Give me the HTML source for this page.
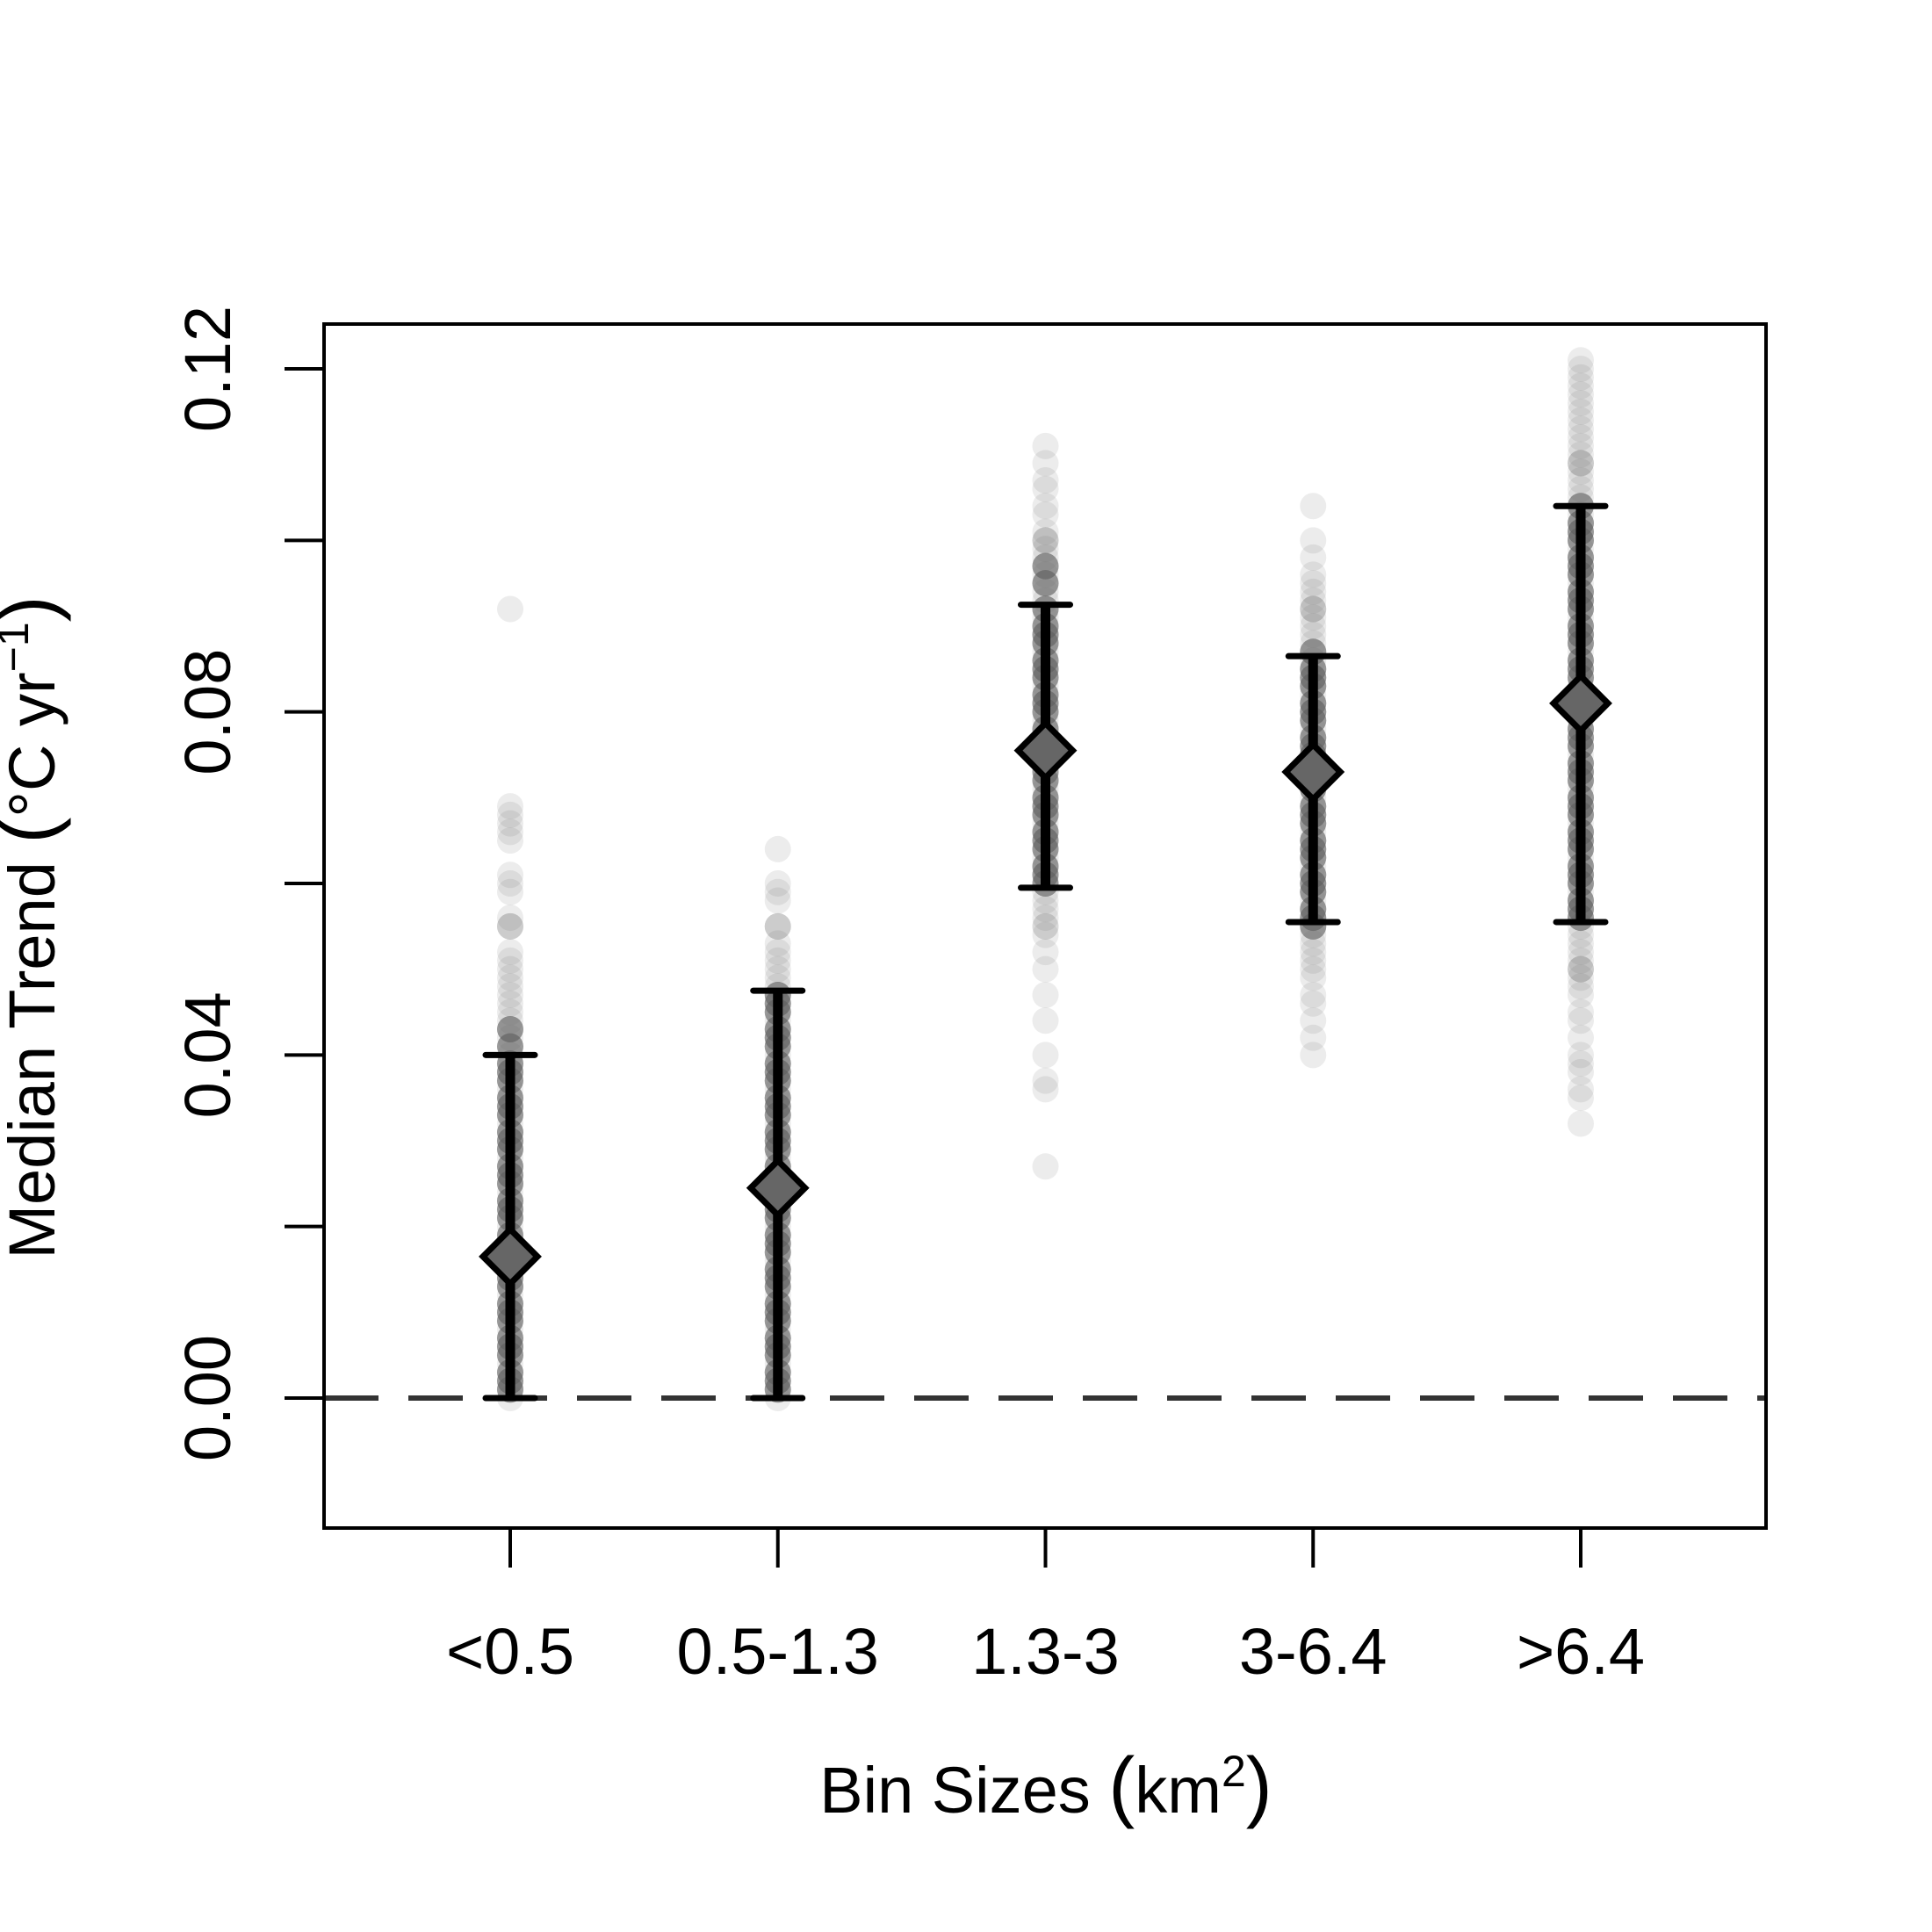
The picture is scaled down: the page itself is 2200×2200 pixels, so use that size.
<!DOCTYPE html>
<html><head><meta charset="utf-8"><style>
html,body{margin:0;padding:0;background:#fff}
svg{display:block}
text{font-family:"Liberation Sans",Arial,sans-serif;fill:#000}
</style></head><body>
<svg id="chart" width="2200" height="2200" viewBox="0 0 2200 2200" xmlns="http://www.w3.org/2000/svg">
<rect x="0" y="0" width="2200" height="2200" fill="#fff"/>
<g id="pts"></g>
<g id="marks"></g>
<g id="axes"></g>
<text x="1191" y="2064" font-size="74" text-anchor="middle">Bin Sizes <tspan font-size="90">(</tspan>km<tspan font-size="50" dy="-30">2</tspan><tspan font-size="90" dy="30">)</tspan></text>
<text transform="translate(62,1056) rotate(-90)" font-size="74" text-anchor="middle">Median Trend <tspan font-size="90">(</tspan>°C yr<tspan font-size="50" dy="-30">−1</tspan><tspan font-size="90" dy="30">)</tspan></text>
</svg>
<script>
const categories = ["<0.5","0.5-1.3","1.3-3","3-6.4",">6.4"];
const medians = [0.0165, 0.0245, 0.0755, 0.0730, 0.0810];
const lowers = [0.0, 0.0, 0.0595, 0.0555, 0.0555];
const uppers = [0.040, 0.0475, 0.0925, 0.0865, 0.1040];
const yTicks = [0, 0.02, 0.04, 0.06, 0.08, 0.10, 0.12];
const yTickLabels = ["0.00","","0.04","","0.08","","0.12"];
const pts0 = [0,0.001,0.002,0.003,0.004,0.005,0.006,0.007,0.008,0.009,0.010,0.011,0.012,0.013,0.014,0.015,0.016,0.017,0.018,0.019,0.020,0.021,0.022,0.023,0.024,0.025,0.026,0.027,0.028,0.029,0.030,0.031,0.032,0.033,0.034,0.035,0.036,0.037,0.038,0.039,0.040,0.041,0.042,0.043,0.044,0.045,0.046,0.047,0.048,0.049,0.050,0.051,0.052,0.055,0.055,0.055,0.056,0.059,0.060,0.061,0.065,0.066,0.067,0.068,0.069,0.092];
const pts1 = [0,0.001,0.002,0.003,0.004,0.005,0.006,0.007,0.008,0.009,0.010,0.011,0.012,0.013,0.014,0.015,0.016,0.017,0.018,0.019,0.020,0.021,0.022,0.023,0.024,0.025,0.026,0.027,0.028,0.029,0.030,0.031,0.032,0.033,0.034,0.035,0.036,0.037,0.038,0.039,0.040,0.041,0.042,0.043,0.044,0.045,0.046,0.047,0.048,0.049,0.050,0.051,0.052,0.053,0.055,0.055,0.055,0.058,0.059,0.060,0.064];
const pts2 = [0.027,0.036,0.037,0.040,0.044,0.047,0.050,0.052,0.054,0.055,0.055,0.056,0.057,0.058,0.059,0.060,0.061,0.062,0.063,0.064,0.065,0.066,0.067,0.068,0.069,0.070,0.071,0.072,0.073,0.074,0.075,0.076,0.077,0.078,0.079,0.080,0.081,0.082,0.083,0.084,0.085,0.086,0.087,0.088,0.089,0.090,0.091,0.092,0.093,0.094,0.095,0.096,0.097,0.098,0.099,0.100,0.100,0.100,0.101,0.103,0.104,0.106,0.107,0.109,0.111];
const pts3 = [0.040,0.042,0.044,0.046,0.047,0.049,0.050,0.051,0.052,0.053,0.054,0.055,0.056,0.057,0.058,0.059,0.060,0.061,0.062,0.063,0.064,0.065,0.066,0.067,0.068,0.069,0.070,0.071,0.072,0.073,0.074,0.075,0.076,0.077,0.078,0.079,0.080,0.081,0.082,0.083,0.084,0.085,0.086,0.087,0.088,0.089,0.090,0.091,0.092,0.092,0.092,0.093,0.094,0.095,0.096,0.098,0.100,0.104];
const pts4 = [0.032,0.035,0.036,0.038,0.039,0.040,0.042,0.044,0.045,0.047,0.048,0.049,0.050,0.050,0.050,0.051,0.052,0.053,0.054,0.055,0.056,0.057,0.058,0.059,0.060,0.061,0.062,0.063,0.064,0.065,0.066,0.067,0.068,0.069,0.070,0.071,0.072,0.073,0.074,0.075,0.076,0.077,0.078,0.079,0.080,0.081,0.082,0.083,0.084,0.085,0.086,0.087,0.088,0.089,0.090,0.091,0.092,0.093,0.094,0.095,0.096,0.097,0.098,0.099,0.100,0.101,0.102,0.103,0.104,0.105,0.106,0.107,0.108,0.109,0.109,0.109,0.110,0.111,0.112,0.113,0.114,0.115,0.116,0.117,0.118,0.119,0.120,0.121];
// extra dense core observations (overlapping points inside the interquartile span)
const core0 = [0.001,0.003,0.005,0.007,0.009,0.011,0.013,0.015,0.017,0.019,0.021,0.023,0.025,0.027,0.029,0.031,0.033,0.035,0.037,0.039,0.041,0.043,0.002,0.006,0.010,0.014,0.018,0.022,0.026,0.030,0.034,0.038];
const core1 = [0.001,0.003,0.005,0.007,0.009,0.011,0.013,0.015,0.017,0.019,0.021,0.023,0.025,0.027,0.029,0.031,0.033,0.035,0.037,0.039,0.041,0.043,0.045,0.047,0.002,0.006,0.010,0.014,0.018,0.022,0.026,0.030,0.034,0.038,0.042,0.046];
const core2 = [0.060,0.062,0.064,0.066,0.068,0.070,0.072,0.074,0.076,0.078,0.080,0.082,0.084,0.086,0.088,0.090,0.092,0.061,0.065,0.069,0.073,0.077,0.081,0.085,0.089,0.095,0.097];
const core3 = [0.055,0.057,0.059,0.061,0.063,0.065,0.067,0.069,0.071,0.073,0.075,0.077,0.079,0.081,0.083,0.085,0.087,0.056,0.060,0.064,0.068,0.072,0.076,0.080,0.084];
const core4 = [0.056,0.058,0.060,0.062,0.064,0.066,0.068,0.070,0.072,0.074,0.076,0.078,0.080,0.082,0.084,0.086,0.088,0.090,0.092,0.094,0.096,0.098,0.100,0.102,0.104,0.057,0.061,0.065,0.069,0.073,0.077,0.081,0.085,0.089,0.093,0.097,0.101];
const pointSets = [pts0, pts1, pts2, pts3, pts4];
const coreSets = [core0, core1, core2, core3, core4];

const NS = "http://www.w3.org/2000/svg";
const L = 369, R = 2011, T = 369, B = 1740;
const y0 = 1592, yPer = (1592 - 420) / 0.12;
function yS(v){ return y0 - v * yPer; }
function xS(i){ return 581 + i * 304.75; }
function mk(tag, attrs, parent){
  const e = document.createElementNS(NS, tag);
  for (const k in attrs) e.setAttribute(k, attrs[k]);
  parent.appendChild(e); return e;
}
const gp = document.getElementById('pts');
const gm = document.getElementById('marks');
const ga = document.getElementById('axes');

function drawPoints(sets, op){
  sets.forEach((set, i) => {
    set.forEach(v => {
      const c = mk('circle', {cx: xS(i), cy: yS(v), r: 15, fill: 'rgb(95,95,95)', 'fill-opacity': op}, gp);
      
      
    });
  });
}
drawPoints(pointSets, 0.12);
drawPoints(coreSets, 0.35);
drawPoints(coreSets, 0.35);

const zl = mk('line', {x1: L, x2: R, y1: yS(0), y2: yS(0), stroke: '#333', 'stroke-width': 6, 'stroke-dasharray': '62 34'}, gm);



categories.forEach((c, i) => {
  const x = xS(i);
  const eb = mk('line', {x1: x, x2: x, y1: yS(lowers[i]), y2: yS(uppers[i]), stroke: '#000', 'stroke-width': 11}, gm);
  
  
  [lowers[i], uppers[i]].forEach(v => {
    const cap = mk('line', {x1: x - 28, x2: x + 28, y1: yS(v), y2: yS(v), stroke: '#000', 'stroke-width': 7, 'stroke-linecap': 'round'}, gm);
    
    
  });
  const y = yS(medians[i]), s = 31;
  const d = mk('polygon', {points: `${x},${y - s} ${x + s},${y} ${x},${y + s} ${x - s},${y}`, fill: '#666', stroke: '#000', 'stroke-width': 7, 'stroke-linejoin': 'miter'}, gm);
  
  
  const t = mk('line', {x1: x, x2: x, y1: B, y2: B + 45, stroke: '#000', 'stroke-width': 4}, ga);
  
  
  const lb = mk('text', {x: x, y: 1906, 'font-size': 74, 'text-anchor': 'middle'}, ga);
  lb.textContent = c;
  
  
});

yTicks.forEach((v, i) => {
  const y = yS(v);
  const t = mk('line', {x1: L - 45, x2: L, y1: y, y2: y, stroke: '#000', 'stroke-width': 4}, ga);
  
  
  if (yTickLabels[i]) {
    const lb = mk('text', {transform: `translate(262,${y}) rotate(-90)`, 'font-size': 74, 'text-anchor': 'middle'}, ga);
    lb.textContent = yTickLabels[i];
    
    
  }
});

const box = mk('rect', {x: L, y: T, width: R - L, height: B - T, fill: 'none', stroke: '#000', 'stroke-width': 4}, ga);


</script>
</body></html>
